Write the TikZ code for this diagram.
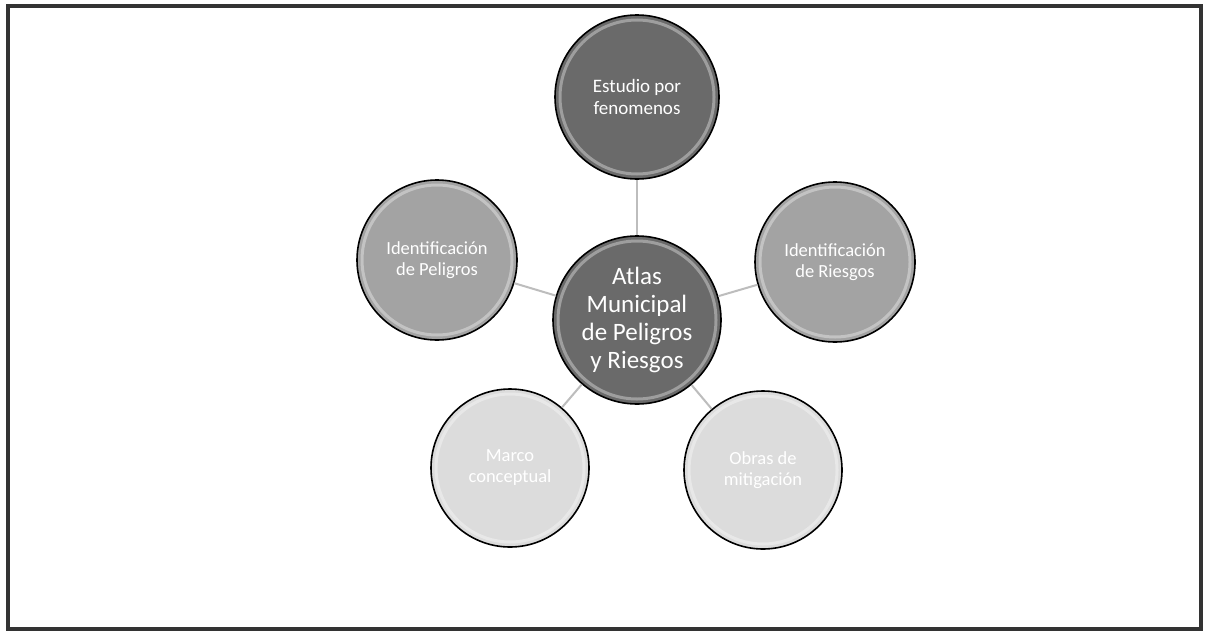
\documentclass[tikz,border=0pt]{standalone}
\usepackage{fontspec}
\setmainfont{Carlito}
\definecolor{darkc}{HTML}{6A6A6A}
\definecolor{midc}{HTML}{A3A3A3}
\definecolor{lightc}{HTML}{DCDCDC}
\definecolor{linkc}{HTML}{BDBDBD}
\definecolor{framec}{HTML}{333333}
\begin{document}
\begin{tikzpicture}[x=1pt,y=-1pt,
  bubble/.style={circle,draw=black,line width=1.6pt,inner sep=0pt,text=white,align=center},
  big/.style={bubble,minimum size=168pt,font=\fontsize{25}{28}\selectfont,fill=darkc},
  topb/.style={bubble,minimum size=164pt,font=\fontsize{19}{22}\selectfont,fill=darkc},
  sideb/.style={bubble,minimum size=160pt,font=\fontsize{18.5}{21}\selectfont,fill=midc},
  lowb/.style={bubble,minimum size=158pt,font=\fontsize{18.5}{21}\selectfont,fill=lightc},
  ring/.style={draw=white,opacity=0.35,line width=3pt},
  link/.style={draw=linkc,line width=2pt}]
\useasboundingbox (0,0) rectangle (1206,637);
\fill[white] (0,0) rectangle (1206,637);
\draw[framec,line width=3.5pt] (8,6) rectangle (1201,629);
\node[big] (c) at (637,320) {Atlas\\Municipal\\de Peligros\\y Riesgos};
\node[topb] (t) at (637,97) {Estudio por\\fenomenos};
\node[sideb] (l) at (437,260) {Identificación\\de Peligros};
\node[sideb] (r) at (835,262) {Identificación\\de Riesgos};
\node[lowb] (bl) at (510,468) {Marco\\conceptual};
\node[lowb] (br) at (763,470) {Obras de\\mitigación};
\draw[link] (c) -- (t);
\draw[link] (c) -- (l);
\draw[link] (c) -- (r);
\draw[link] (c) -- (bl);
\draw[link] (c) -- (br);
\draw[ring] (c.center) circle[radius=79];
\draw[ring] (t.center) circle[radius=77];
\draw[ring] (l.center) circle[radius=75];
\draw[ring] (r.center) circle[radius=75];
\draw[ring] (bl.center) circle[radius=74];
\draw[ring] (br.center) circle[radius=74];
\end{tikzpicture}
\end{document}
